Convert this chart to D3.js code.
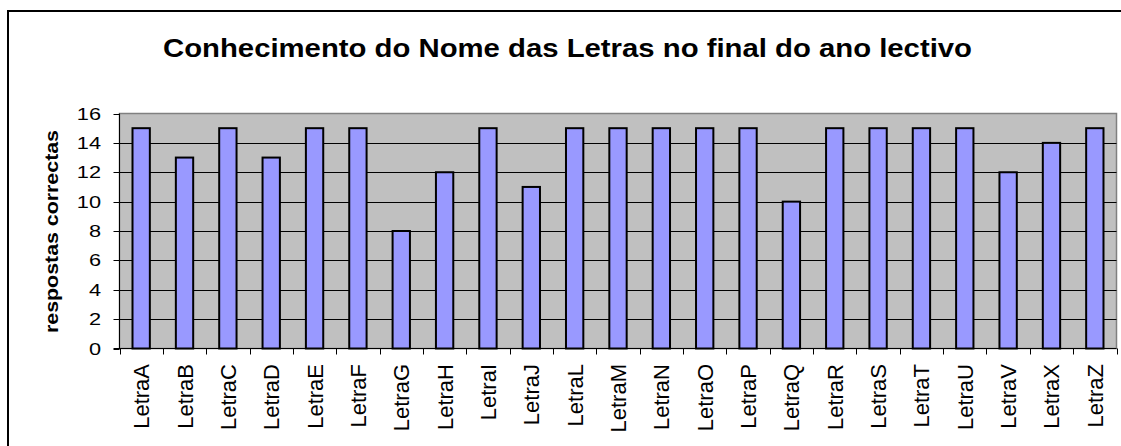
<html>
<head>
<meta charset="utf-8">
<style>
body { margin: 0; background: #fff; }
text { font-family: "Liberation Sans", Arial, sans-serif; fill: #000; }
.plot-bg { fill: #c0c0c0; stroke: #808080; stroke-width: 1.5px; }
.grid { stroke: #000; stroke-width: 1px; }
.bar { fill: #9999ff; stroke: #000; stroke-width: 2px; }
.tick { stroke: #000; stroke-width: 1px; }
</style>
</head>
<body>
<script src="https://d3js.org/d3.v7.min.js"></script>
<script>

var letters = ["LetraA","LetraB","LetraC","LetraD","LetraE","LetraF","LetraG","LetraH","LetraI","LetraJ",
               "LetraL","LetraM","LetraN","LetraO","LetraP","LetraQ","LetraR","LetraS","LetraT","LetraU",
               "LetraV","LetraX","LetraZ"];
var correctas = [15,13,15,13,15,15,8,12,15,11,15,15,15,15,15,10,15,15,15,15,12,14,15];
var yTicks = [0,2,4,6,8,10,12,14,16];
var titleText = "Conhecimento do Nome das Letras no final do ano lectivo";
var yLabel = "respostas correctas";

var canvasWidth = 1121;
var canvasHeight = 446;

var plotLeft = 119.5, plotRight = 1116.5;
var plotTop = 113.5, plotBottom = 348.5;

var svg = d3.select("body").append("svg")
            .attr("width", canvasWidth)
            .attr("height", canvasHeight);

// outer chart frame (runs off right and bottom edge)
svg.append("rect")
   .attr("x", 8).attr("y", 11)
   .attr("width", 1200).attr("height", 500)
   .attr("fill", "#fff").attr("stroke", "#000").attr("stroke-width", 2);

var x = d3.scaleBand().domain(letters).range([plotLeft, plotRight]).paddingInner(0).paddingOuter(0);
var y = d3.scaleLinear().domain([0, 16]).range([plotBottom, plotTop]);
var barW = x.bandwidth() / 2.5;

svg.append("rect")
   .attr("class", "plot-bg")
   .attr("x", plotLeft).attr("y", plotTop)
   .attr("width", plotRight - plotLeft).attr("height", plotBottom - plotTop);

// horizontal gridlines
svg.selectAll(".grid")
   .data(yTicks.filter(function(d){ return d > 0 && d < 16; }))
   .enter().append("line")
   .attr("class", "grid")
   .attr("x1", plotLeft).attr("x2", plotRight)
   .attr("y1", function(d){ return Math.round(y(d)) + 0.5; })
   .attr("y2", function(d){ return Math.round(y(d)) + 0.5; });

// bars
svg.selectAll(".bar")
   .data(correctas)
   .enter().append("rect")
   .attr("class", "bar")
   .attr("x", function(d, i){ return x(letters[i]) + (x.bandwidth() - barW) / 2; })
   .attr("y", function(d){ return y(d); })
   .attr("width", barW)
   .attr("height", function(d){ return y(0) - y(d); });

// axes lines
svg.append("line").attr("class", "tick")
   .attr("x1", plotLeft).attr("x2", plotLeft)
   .attr("y1", plotTop).attr("y2", plotBottom);
svg.append("line").attr("class", "tick")
   .attr("x1", plotLeft - 6).attr("x2", plotRight)
   .attr("y1", plotBottom).attr("y2", plotBottom);

// y ticks + labels
svg.selectAll(".ytick")
   .data(yTicks)
   .enter().append("line")
   .attr("class", "tick")
   .attr("x1", plotLeft - 6).attr("x2", plotLeft)
   .attr("y1", function(d){ return Math.round(y(d)) + 0.5; })
   .attr("y2", function(d){ return Math.round(y(d)) + 0.5; });

svg.selectAll(".ylab")
   .data(yTicks)
   .enter().append("text")
   .attr("class", "ylab")
   .attr("text-anchor", "end")
   .attr("font-size", "17px")
   .attr("transform", function(d){ return "translate(101," + (y(d) + 6) + ") scale(1.28,1)"; })
   .text(function(d){ return d; });

// x ticks at band edges
var edges = letters.map(function(d){ return x(d); }).concat([plotRight]);
svg.selectAll(".xtick")
   .data(edges)
   .enter().append("line")
   .attr("class", "tick")
   .attr("x1", function(d){ return Math.round(d) + 0.5; })
   .attr("x2", function(d){ return Math.round(d) + 0.5; })
   .attr("y1", plotBottom).attr("y2", plotBottom + 6);

svg.selectAll(".xlab")
   .data(letters)
   .enter().append("text")
   .attr("class", "xlab")
   .attr("text-anchor", "end")
   .attr("font-size", "22px")
   .attr("transform", function(d){ return "translate(" + (x(d) + x.bandwidth() / 2 + 8) + ",364) rotate(-90)"; })
   .text(function(d){ return d; });

// title
svg.append("text")
   .attr("x", 567.5).attr("y", 57)
   .attr("text-anchor", "middle")
   .attr("font-size", "26px").attr("font-weight", "bold")
   .attr("textLength", 809).attr("lengthAdjust", "spacingAndGlyphs")
   .text(titleText);

// y axis title
svg.append("text")
   .attr("transform", "translate(58,231.5) rotate(-90)")
   .attr("text-anchor", "middle")
   .attr("font-size", "19px").attr("font-weight", "bold")
   .attr("textLength", 203).attr("lengthAdjust", "spacingAndGlyphs")
   .text(yLabel);

</script>
</body>
</html>
